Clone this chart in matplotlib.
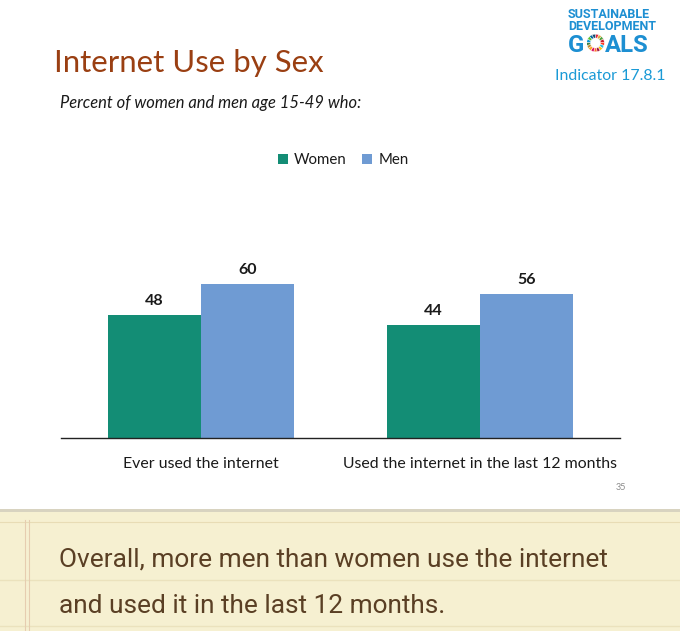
import numpy as np
import matplotlib.pyplot as plt
from matplotlib.patches import Rectangle, Wedge

categories = ['Ever used the internet', 'Used the internet in the last 12 months']
women = [48, 44]
men = [60, 56]

W, H = 680, 631
def fx(px):
    return px / W
def fy(py):
    return 1 - py / H

fig = plt.figure(figsize=(6.8, 6.31), dpi=100)
fig.patch.set_facecolor('white')

slide_font = 'Lato'

# titles
fig.text(fx(54), fy(63), 'Internet Use by Sex', fontsize=22.4, color='#9a3f12',
         family=slide_font, va='center', ha='left')
fig.text(fx(60), fy(103), 'Percent of women and men age 15-49 who:', fontsize=11.9,
         style='italic', color='#1a1a1a', family=slide_font, va='center', ha='left')

# SDG logo
sdg_blue = '#1d8fd2'
fig.text(fx(568), fy(17.7), 'SUSTAINABLE', fontsize=9.0, weight='bold', color=sdg_blue,
         family='Roboto', va='baseline', ha='left')
fig.text(fx(568), fy(30), 'DEVELOPMENT', fontsize=9.0, weight='bold', color=sdg_blue,
         family='Roboto', va='baseline', ha='left')
fig.text(fx(568), fy(51.7), 'G', fontsize=17.2, weight='bold', color=sdg_blue,
         family='Roboto', va='baseline', ha='left')
fig.text(fx(605), fy(51.7), 'ALS', fontsize=17.2, weight='bold', color=sdg_blue,
         family='Roboto', va='baseline', ha='left')
sdg_colors = ['#e5243b', '#dda63a', '#4c9f38', '#c5192d', '#ff3a21', '#26bde2',
              '#fcc30b', '#a21942', '#fd6925', '#dd1367', '#fd9d24', '#bf8b2e',
              '#3f7e44', '#0a97d9', '#56c02b', '#00689d', '#19486a']
lax = fig.add_axes([fx(586.5), fy(52), fx(18), 18 / H])
lax.set_xlim(-1, 1)
lax.set_ylim(-1, 1)
lax.set_aspect('equal')
lax.axis('off')
step = 360 / len(sdg_colors)
for i, c in enumerate(sdg_colors):
    lax.add_patch(Wedge((0, 0), 0.98, 90 - (i + 1) * step, 90 - i * step,
                        width=0.42, facecolor=c, edgecolor='white', linewidth=0.3))
fig.text(fx(610.5), fy(76), 'Indicator 17.8.1', fontsize=11.4, color='#1a9ad6',
         family=slide_font, va='center', ha='center')

# chart
ax = fig.add_axes([fx(61), fy(438), fx(620 - 61), (438 - 181) / H])
x = np.arange(len(categories))
bw = 0.333
b1 = ax.bar(x - bw / 2, women, bw, color='#138d75', label='Women')
b2 = ax.bar(x + bw / 2, men, bw, color='#6f9bd3', label='Men')
for bars in (b1, b2):
    ax.bar_label(bars, padding=5, fontsize=11.5, weight='bold', color='#1a1a1a',
                 family=slide_font)
ax.set_xlim(-0.5, 1.5)
ax.set_ylim(0, 100)
ax.set_yticks([])
ax.set_xticks(x)
ax.set_xticklabels(categories, fontsize=11.45, family=slide_font, color='#1a1a1a')
ax.tick_params(axis='x', length=0, pad=14)
for s in ['top', 'right', 'left']:
    ax.spines[s].set_visible(False)
ax.spines['bottom'].set_color('#222222')
ax.spines['bottom'].set_linewidth(1.0)
ax.set_facecolor('none')

leg = fig.legend(handles=[b1, b2], labels=['Women', 'Men'], loc='center',
                 bbox_to_anchor=(fx(343), fy(160)), ncol=2, frameon=False,
                 handlelength=0.7, handleheight=0.7, handletextpad=0.4,
                 columnspacing=1.0, prop={'family': slide_font, 'size': 10.8})
for t in leg.get_texts():
    t.set_color('#1a1a1a')

fig.text(fx(621), fy(488), '35', fontsize=6.5, color='#8c8c8c', family=slide_font,
         va='center', ha='center')

# paper panel at the bottom
fig.patches.append(Rectangle((0, 0), 1, fy(510), transform=fig.transFigure,
                             facecolor='#f6f0d1', edgecolor='none', zorder=0))
fig.patches.append(Rectangle((0, fy(512)), 1, 3 / H, transform=fig.transFigure,
                             facecolor='#d8d3c0', edgecolor='none', zorder=0))
for ly in [580, 626]:
    fig.add_artist(plt.Line2D([0, 1], [fy(ly), fy(ly)], color='#ebe2bd', lw=1.0, zorder=1))
fig.add_artist(plt.Line2D([0, 1], [fy(522), fy(522)], color='#e8dcb5', lw=0.8, zorder=1))
for lx in [25, 29]:
    fig.add_artist(plt.Line2D([fx(lx), fx(lx)], [0, fy(520)], color='#e6cdb0', lw=0.8, zorder=1))

fig.text(fx(59), fy(559), 'Overall, more men than women use the internet', fontsize=18.9,
         family='Roboto', color='#5a3f24', va='center', ha='left')
fig.text(fx(59), fy(606), 'and used it in the last 12 months.', fontsize=18.9,
         family='Roboto', color='#5a3f24', va='center', ha='left')

fig.savefig('out.png', dpi=100)
